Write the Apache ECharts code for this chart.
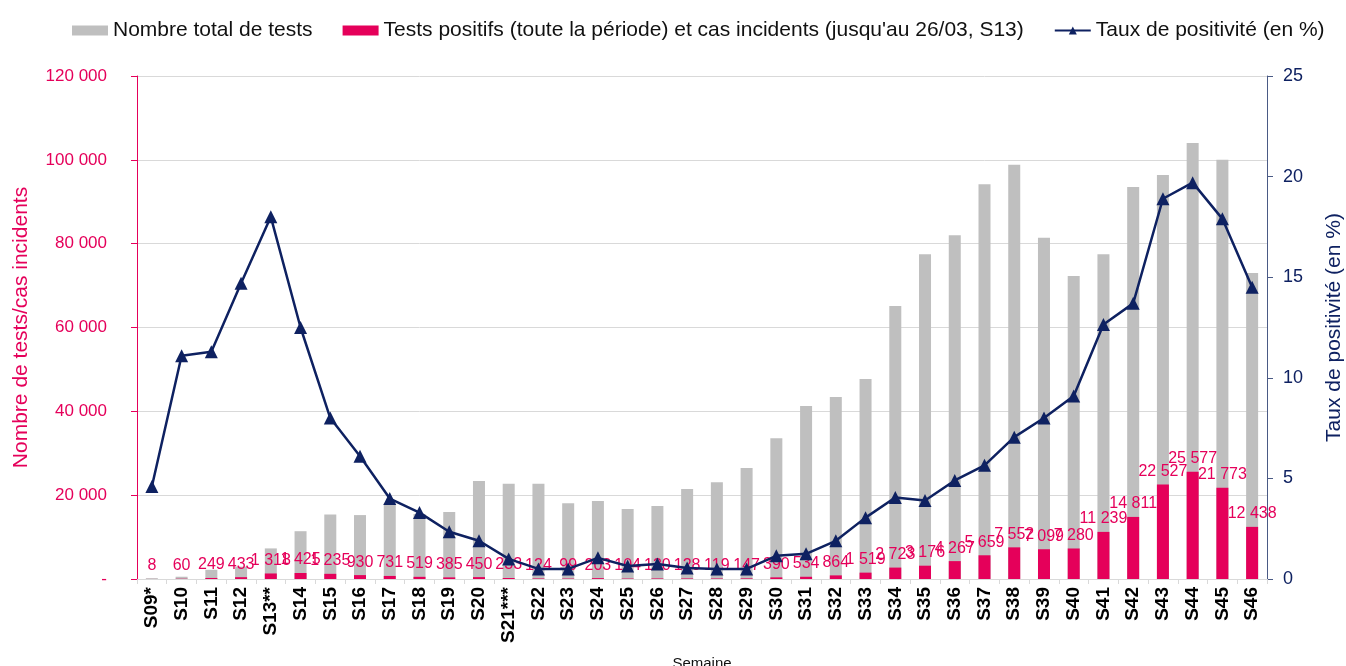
<!DOCTYPE html>
<html>
<head>
<meta charset="utf-8">
<script src="https://cdn.jsdelivr.net/npm/echarts@6/dist/echarts.min.js"></script>
<style>
html,body{margin:0;padding:0;background:#fff;}
#main{width:1346px;height:666px;}
</style>
</head>
<body>
<div id="main"></div>
<script>
var semaines = ['S09*','S10','S11','S12','S13**','S14','S15','S16','S17','S18','S19','S20','S21***','S22','S23','S24','S25','S26','S27','S28','S29','S30','S31','S32','S33','S34','S35','S36','S37','S38','S39','S40','S41','S42','S43','S44','S45','S46'];

var totalTests = [200,540,2200,2950,7300,11400,15400,15250,18000,15500,16000,23400,22700,22700,18100,18600,16700,17400,21500,23100,26500,33600,41300,43400,47700,65100,77500,82000,94200,98800,81400,72300,77500,93500,96400,104000,100000,73000];

var testsPositifs = [8,60,249,433,1318,1425,1235,930,731,519,385,450,233,124,99,203,104,130,128,119,147,390,534,864,1519,2723,3176,4267,5659,7552,7099,7280,11239,14811,22527,25577,21773,12438];

var tauxPositivite = [4.6,11.1,11.3,14.7,18.0,12.5,8.0,6.1,4.0,3.3,2.35,1.9,1.0,0.5,0.5,1.05,0.65,0.75,0.55,0.5,0.5,1.15,1.25,1.9,3.05,4.05,3.9,4.9,5.65,7.05,8.0,9.1,12.65,13.7,18.9,19.7,17.9,14.5];

var rose = '#e5005a';
var marine = '#0e2161';

// 20 000 style, 0 shown as "-"
function espace(v){
	if(v === 0) return '-';
	return String(v).replace(/\B(?=(\d{3})+(?!\d))/g, ' ');
}

var myChart = echarts.init(document.getElementById('main'));

var option = {
	textStyle:{ fontFamily:'Liberation Sans, Arial, sans-serif' },
	animation:false,
	legend: {
		top:15,
		left:67,
		itemWidth:36,
		itemHeight:10,
		itemGap:30,
		textStyle:{ color:'#111', fontSize:21 },
		data:[
			{ name:'Nombre total de tests', icon:'rect' },
			{ name:"Tests positifs (toute la période) et cas incidents (jusqu'au 26/03, S13)", icon:'rect' },
			{ name:'Taux de positivité (en %)' }
		]
	},
	grid: {
		left:137,
		right:79,
		top:76,
		bottom:87,
		outerBoundsMode:'none'
	},
	xAxis: [{
		type:'category',
		data:semaines,
		name:'Semaine',
		nameLocation:'middle',
		nameGap:77,
		nameTextStyle:{ color:'#111', fontSize:15 },
		axisLine:{ lineStyle:{ color:'#d9d9d9', width:1 } },
		axisTick:{ show:true, alignWithLabel:false, lineStyle:{ color:'#d9d9d9' } },
		axisLabel:{ rotate:90, interval:0, color:'#000', fontSize:19, fontWeight:'bold', margin:8 }
	}],
	yAxis: [
		{
			type:'value',
			min:0,
			max:120000,
			interval:20000,
			name:'Nombre de tests/cas incidents',
			nameLocation:'middle',
			nameGap:105,
			nameTextStyle:{ color:rose, fontSize:21 },
			axisLine:{ show:true, lineStyle:{ color:rose } },
			axisTick:{ show:true, length:6, lineStyle:{ color:rose } },
			axisLabel:{ color:rose, fontSize:17, margin:30, formatter:espace },
			splitLine:{ lineStyle:{ color:'#d9d9d9' } }
		},
		{
			type:'value',
			min:0,
			max:25,
			interval:5,
			name:'Taux de positivité (en %)',
			nameLocation:'middle',
			nameGap:57,
			nameTextStyle:{ color:marine, fontSize:21 },
			axisLine:{ show:true, lineStyle:{ color:'#4a5a85' } },
			axisTick:{ show:true, length:6, lineStyle:{ color:'#4a5a85' } },
			axisLabel:{ color:marine, fontSize:18, margin:16 },
			splitLine:{ show:false }
		}
	],
	series: [
		{
			name:'Nombre total de tests',
			type:'bar',
			barWidth:12,
			itemStyle:{ color:'#bfbfbf' },
			data:totalTests
		},
		{
			name:"Tests positifs (toute la période) et cas incidents (jusqu'au 26/03, S13)",
			type:'bar',
			barWidth:12,
			barGap:'-100%',
			itemStyle:{ color:rose },
			label:{
				show:true,
				position:'top',
				distance:5,
				color:rose,
				fontSize:16,
				formatter:function(p){ return espace(p.value); }
			},
			data:testsPositifs
		},
		{
			name:'Taux de positivité (en %)',
			type:'line',
			yAxisIndex:1,
			symbol:'triangle',
			symbolSize:13,
			z:5,
			lineStyle:{ color:marine, width:2.5 },
			itemStyle:{ color:marine },
			data:tauxPositivite
		}
	]
};

myChart.setOption(option);
</script>
</body>
</html>
